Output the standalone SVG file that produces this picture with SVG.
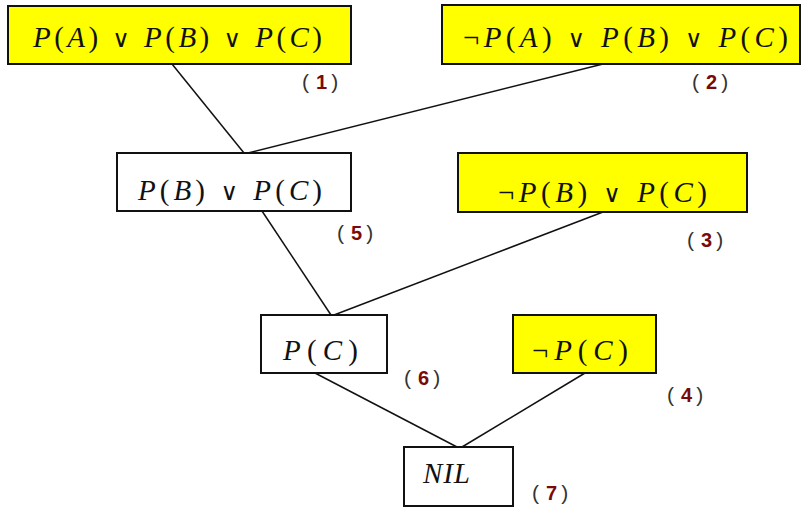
<svg xmlns="http://www.w3.org/2000/svg" width="807" height="510" viewBox="0 0 807 510">
<style>
.box{stroke:#111;stroke-width:2}
.y{fill:#ffff00}
.w{fill:#fff}
.t{font-family:"Liberation Serif","Times New Roman",serif;font-size:29px;fill:#111}
.i{font-style:italic}
.o{font-family:"DejaVu Serif",serif;font-size:24px;font-weight:normal;font-style:normal}
.lb{font-family:"Liberation Sans",Arial,sans-serif;font-size:21px;fill:#333}
.n{fill:#7a0a0a;font-weight:bold;font-size:20px}
.c line{stroke:#111;stroke-width:1.5}
</style>
<rect width="807" height="510" fill="#fff"/>
<g class="c" id="connectors">
<line x1="172" y1="64" x2="244" y2="153"/>
<line x1="603" y1="64" x2="248" y2="153"/>
<line x1="262" y1="211" x2="331" y2="315"/>
<line x1="603" y1="212" x2="334" y2="315"/>
<line x1="315" y1="373" x2="457" y2="447"/>
<line x1="585" y1="373" x2="462" y2="447"/>
</g>
<g id="n1">
<rect class="box y" x="8" y="6" width="343" height="58"/>
<text class="t" x="33" y="47" textLength="289" lengthAdjust="spacing"><tspan class="i">P</tspan>(<tspan class="i">A</tspan>) <tspan class="o">∨</tspan> <tspan class="i">P</tspan>(<tspan class="i">B</tspan>) <tspan class="o">∨</tspan> <tspan class="i">P</tspan>(<tspan class="i">C</tspan>)</text>
<text class="lb" x="302" y="89">(<tspan class="n" dx="7">1</tspan><tspan dx="4">)</tspan></text>
</g>
<g id="n2">
<rect class="box y" x="442" y="5" width="358" height="59"/>
<text class="t" x="463" y="47" textLength="325" lengthAdjust="spacing">¬<tspan class="i">P</tspan>(<tspan class="i">A</tspan>) <tspan class="o">∨</tspan> <tspan class="i">P</tspan>(<tspan class="i">B</tspan>) <tspan class="o">∨</tspan> <tspan class="i">P</tspan>(<tspan class="i">C</tspan>)</text>
<text class="lb" x="692" y="89">(<tspan class="n" dx="7">2</tspan><tspan dx="4">)</tspan></text>
</g>
<g id="n5">
<rect class="box w" x="117" y="153" width="234" height="58"/>
<text class="t" x="138" y="200" textLength="184" lengthAdjust="spacing"><tspan class="i">P</tspan>(<tspan class="i">B</tspan>) <tspan class="o">∨</tspan> <tspan class="i">P</tspan>(<tspan class="i">C</tspan>)</text>
<text class="lb" x="337" y="240">(<tspan class="n" dx="7">5</tspan><tspan dx="4">)</tspan></text>
</g>
<g id="n3">
<rect class="box y" x="458" y="153" width="289" height="59"/>
<text class="t" x="498" y="202" textLength="209" lengthAdjust="spacing">¬<tspan class="i">P</tspan>(<tspan class="i">B</tspan>) <tspan class="o">∨</tspan> <tspan class="i">P</tspan>(<tspan class="i">C</tspan>)</text>
<text class="lb" x="687" y="247">(<tspan class="n" dx="7">3</tspan><tspan dx="4">)</tspan></text>
</g>
<g id="n6">
<rect class="box w" x="261" y="315" width="126" height="58"/>
<text class="t" x="283" y="360" textLength="75" lengthAdjust="spacing"><tspan class="i">P</tspan>(<tspan class="i">C</tspan>)</text>
<text class="lb" x="404" y="385">(<tspan class="n" dx="7">6</tspan><tspan dx="4">)</tspan></text>
</g>
<g id="n4">
<rect class="box y" x="513" y="315" width="143" height="58"/>
<text class="t" x="532" y="360" textLength="96" lengthAdjust="spacing">¬<tspan class="i">P</tspan>(<tspan class="i">C</tspan>)</text>
<text class="lb" x="667" y="402">(<tspan class="n" dx="7">4</tspan><tspan dx="4">)</tspan></text>
</g>
<g id="n7">
<rect class="box w" x="404" y="447" width="109" height="59"/>
<text class="t i" x="423" y="483" textLength="47" lengthAdjust="spacing">NIL</text>
<text class="lb" x="532" y="500">(<tspan class="n" dx="7">7</tspan><tspan dx="4">)</tspan></text>
</g>
</svg>
